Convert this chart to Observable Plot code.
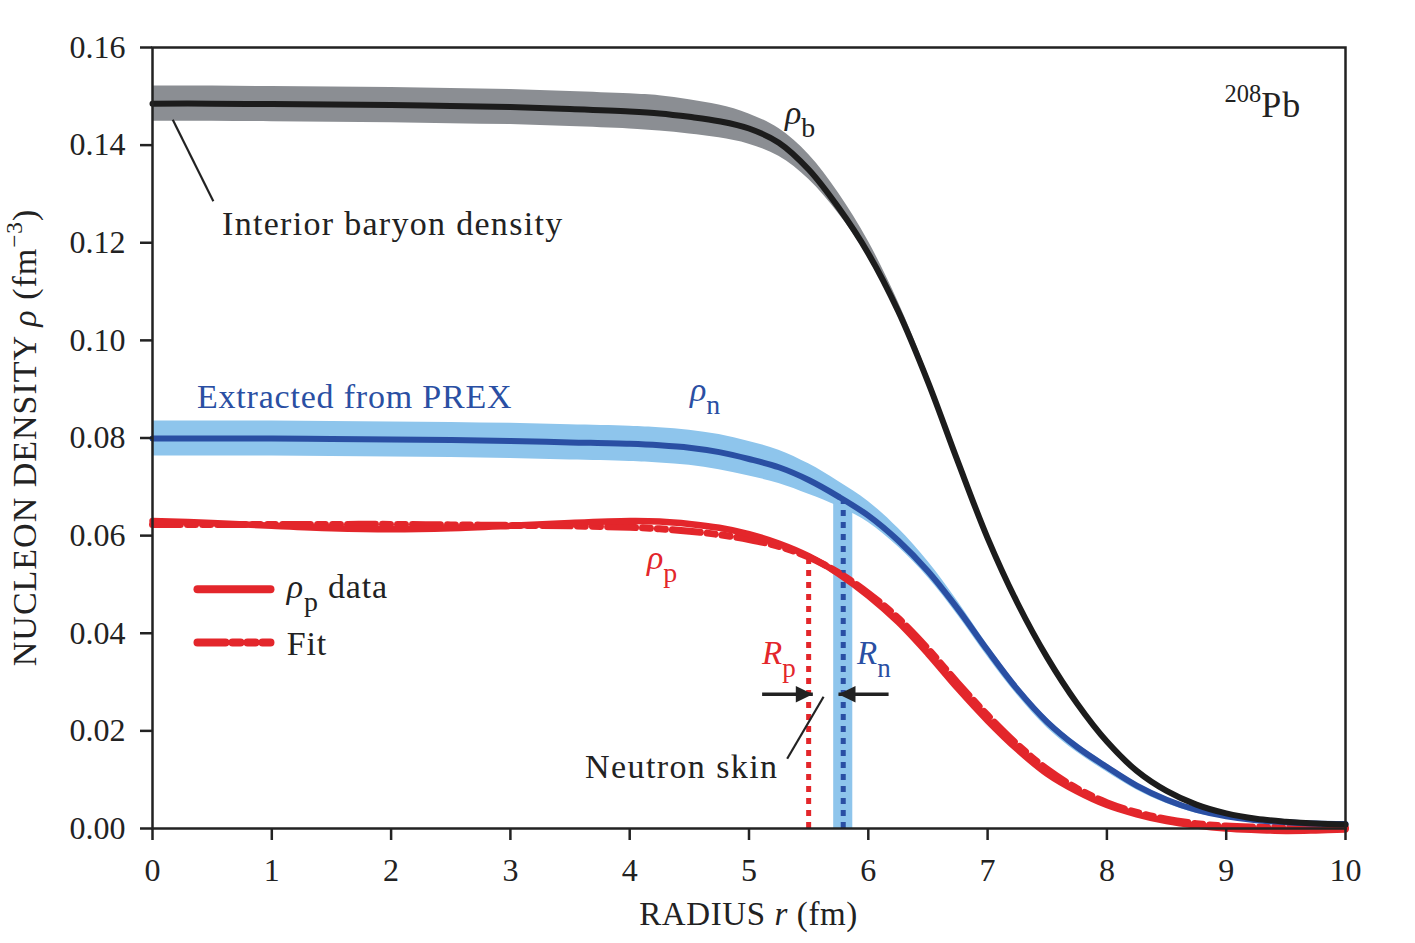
<!DOCTYPE html>
<html><head><meta charset="utf-8">
<script src="https://cdn.jsdelivr.net/npm/d3@7"></script>
<script src="https://cdn.jsdelivr.net/npm/@observablehq/plot@0.6"></script>
<style>body{margin:0;background:#fff} svg{display:block}</style>
</head><body><div id="chart"></div>
<script>
// ---- data ----
const radius = [0,0.5,1,1.5,2,2.5,3,3.5,4,4.25,4.5,4.75,5,5.25,5.5,5.75,6,6.25,6.5,6.75,7,7.25,7.5,7.75,8,8.25,8.5,8.75,9,9.25,9.5,9.75,10];
const rhoB   = [0.1485,0.1485,0.1484,0.1483,0.1482,0.1480,0.1478,0.1474,0.1469,0.1465,0.1458,0.1449,0.1434,0.1405,0.1350,0.1272,0.1178,0.1060,0.0915,0.0752,0.0595,0.0462,0.0350,0.0256,0.0178,0.0118,0.0077,0.0049,0.0031,0.0020,0.0014,0.0010,0.0008];
const rhoBHi = [0.0036,0.0036,0.0036,0.0036,0.0036,0.0036,0.0036,0.0036,0.0036,0.0036,0.0035,0.0033,0.0030,0.0029,0.0031,0.0030,0.0025,0.0019,0.0015,0.0012,0.0010,0.0009,0.0008,0.0007,0.0006,0.0006,0.0005,0.0005,0.0004,0.0004,0.0003,0.0003,0.0003];
const rhoBLo = [0.0036,0.0036,0.0036,0.0036,0.0036,0.0036,0.0036,0.0036,0.0036,0.0036,0.0035,0.0034,0.0032,0.0028,0.0020,0.0012,0.0007,0.0005,0.0004,0.0004,0.0004,0.0004,0.0004,0.0004,0.0004,0.0003,0.0003,0.0003,0.0003,0.0003,0.0003,0.0003,0.0003];
const rhoN   = [0.0799,0.0799,0.0799,0.0798,0.0797,0.0796,0.0794,0.0791,0.0788,0.0785,0.0780,0.0771,0.0757,0.0740,0.0714,0.0680,0.0641,0.0590,0.0527,0.0450,0.0365,0.0285,0.0218,0.0167,0.0126,0.0088,0.0059,0.0038,0.0025,0.0017,0.0013,0.0010,0.0009];
const rhoNHi = [0.0036,0.0036,0.0036,0.0036,0.0036,0.0036,0.0036,0.0036,0.0036,0.0036,0.0036,0.0036,0.0036,0.0035,0.0033,0.0031,0.0029,0.0025,0.0020,0.0015,0.0011,0.0009,0.0008,0.0007,0.0006,0.0005,0.0005,0.0004,0.0004,0.0003,0.0003,0.0003,0.0002];
const rhoNLo = [0.0036,0.0036,0.0036,0.0036,0.0036,0.0036,0.0036,0.0036,0.0036,0.0036,0.0036,0.0036,0.0035,0.0033,0.0029,0.0020,0.0014,0.0013,0.0013,0.0013,0.0013,0.0012,0.0012,0.0011,0.0010,0.0009,0.0008,0.0007,0.0005,0.0004,0.0003,0.0003,0.0002];
const rhoP   = [0.0630,0.0626,0.0620,0.0615,0.0613,0.0615,0.0620,0.0626,0.0630,0.0629,0.0624,0.0616,0.0603,0.0584,0.0558,0.0522,0.0477,0.0423,0.0358,0.0287,0.0221,0.0162,0.0112,0.0076,0.0048,0.0029,0.0015,0.0006,0.0000,-0.0003,-0.0005,-0.0004,-0.0002];
const rhoFit = [0.0623,0.0623,0.0623,0.0623,0.0623,0.0622,0.0621,0.0620,0.0617,0.0614,0.0609,0.0602,0.0592,0.0578,0.0556,0.0524,0.0482,0.0431,0.0368,0.0298,0.0232,0.0172,0.0121,0.0082,0.0053,0.0033,0.0019,0.0010,0.0005,0.0003,0.0002,0.0001,0.0001];

const xTicks = [0,1,2,3,4,5,6,7,8,9,10];
const yTicks = [0,0.02,0.04,0.06,0.08,0.10,0.12,0.14,0.16];

const Rp = 5.50, Rn = 5.79, RnLo = 5.71, RnHi = 5.87;
const rhoAtRp = 0.0560, rhoAtRn = 0.0682;
const arrowRho = 0.0275;
const arrows = [{from:5.11, to:5.535, rot:0}, {from:6.17, to:5.75, rot:180}];
const leaders = [
  {x1:0.17, y1:0.1452, x2:0.51, y2:0.1285},
  {x1:5.625, y1:0.0270, x2:5.32, y2:0.0143}
];
const legendSolid = [{x:0.377, y:0.0490},{x:0.989, y:0.0490}];
const legendFit   = [{x:0.377, y:0.0381},{x:0.989, y:0.0381}];

const RED = "#e3262b", BLUE = "#2a4fa3", LIGHT = "#8ec5ec", GRAY = "#8b8e93", BLACK = "#1c1c1c", INK = "#222";
const FONT = "'Liberation Serif', 'Times New Roman', serif";

const labels = [
  {x:0.587, y:0.1215, color:INK, size:34, ls:1.3, parts:[{t:"Interior baryon density"}]},
  {x:0.377, y:0.0860, color:BLUE, size:34, ls:0.8, parts:[{t:"Extracted from PREX"}]},
  {x:4.51,  y:0.0875, color:BLUE, size:34, parts:[{t:"ρ", it:true},{t:"n", sub:true}]},
  {x:5.306, y:0.1442, color:INK, size:34, parts:[{t:"ρ", it:true},{t:"b", sub:true}]},
  {x:4.149, y:0.0530, color:RED, size:34, parts:[{t:"ρ", it:true},{t:"p", sub:true}]},
  {x:5.113, y:0.0335, color:RED, size:33, parts:[{t:"R", it:true},{t:"p", sub:true}]},
  {x:5.91,  y:0.0335, color:BLUE, size:33, parts:[{t:"R", it:true},{t:"n", sub:true}]},
  {x:3.63,  y:0.0102, color:INK, size:34, ls:1.4, parts:[{t:"Neutron skin"}]},
  {x:8.99,  y:0.1457, color:INK, size:36, parts:[{t:"208", sup:true, scale:0.68},{t:"Pb", ls:1}]},
  {x:1.13,  y:0.0471, color:INK, size:34, ls:0.8, parts:[{t:"ρ", it:true},{t:"p", sub:true},{t:" data"}]},
  {x:1.13,  y:0.0354, color:INK, size:34, ls:0.8, parts:[{t:"Fit"}]}
];

const rows = radius.map((r, i) => ({
  r, b: rhoB[i], bLo: rhoB[i] - rhoBLo[i], bHi: rhoB[i] + rhoBHi[i],
  n: rhoN[i], nLo: rhoN[i] - rhoNLo[i], nHi: rhoN[i] + rhoNHi[i],
  p: rhoP[i], fit: rhoFit[i]
}));

const arrowHead = {
  draw(ctx, size) {
    const s = Math.sqrt(size);
    ctx.moveTo(0, 0); ctx.lineTo(-s, -0.48 * s); ctx.lineTo(-s, 0.48 * s); ctx.closePath();
  }
};

const curve = "catmull-rom";
const fitDash = "28,7,8,7,8,7";

const plot = Plot.plot({
  width: 1415, height: 943,
  marginLeft: 152, marginRight: 70, marginTop: 47, marginBottom: 115,
  style: {fontFamily: FONT, fontSize: "32px", color: INK, background: "#fff"},
  x: {domain: [0, 10]},
  y: {domain: [0, 0.16]},
  marks: [
    Plot.areaY(rows, {x: "r", y1: "bLo", y2: "bHi", fill: GRAY, curve}),
    Plot.areaY(rows, {x: "r", y1: "nLo", y2: "nHi", fill: LIGHT, curve}),
    Plot.rect([{x1: RnLo, x2: RnHi, y1: 0, y2: rhoAtRn}], {x1: "x1", x2: "x2", y1: "y1", y2: "y2", fill: LIGHT}),
    Plot.ruleX([Rp], {y1: 0, y2: rhoAtRp, stroke: RED, strokeWidth: 5, strokeDasharray: "6,6"}),
    Plot.ruleX([Rn], {y1: 0, y2: rhoAtRn, stroke: BLUE, strokeWidth: 5, strokeDasharray: "6,6"}),
    Plot.line(rows, {x: "r", y: "fit", stroke: RED, strokeWidth: 7, strokeDasharray: fitDash, curve}),
    Plot.line(rows, {x: "r", y: "p", stroke: RED, strokeWidth: 6.5, curve}),
    Plot.line(rows, {x: "r", y: "n", stroke: BLUE, strokeWidth: 6, curve}),
    Plot.line(rows, {x: "r", y: "b", stroke: BLACK, strokeWidth: 6, curve}),
    Plot.link(arrows, {x1: "from", x2: "to", y1: arrowRho, y2: arrowRho, stroke: INK, strokeWidth: 3.5}),
    Plot.dot(arrows, {x: "to", y: arrowRho, symbol: arrowHead, r: 9.6, rotate: "rot", fill: INK, stroke: "none"}),
    Plot.link(leaders, {x1: "x1", y1: "y1", x2: "x2", y2: "y2", stroke: INK, strokeWidth: 2.2}),
    Plot.line(legendSolid, {x: "x", y: "y", stroke: RED, strokeWidth: 8}),
    Plot.line(legendFit, {x: "x", y: "y", stroke: RED, strokeWidth: 8, strokeDasharray: fitDash}),
    Plot.axisX(xTicks, {tickSize: 12, tickPadding: 18, strokeWidth: 2.5, fontSize: 32, tickFormat: d => String(d), label: null}),
    Plot.axisY(yTicks, {tickSize: 12, tickPadding: 15, strokeWidth: 2.5, fontSize: 32, tickFormat: d => d.toFixed(2), label: null}),
    Plot.frame({stroke: INK, strokeWidth: 2.5})
  ]
});

document.getElementById("chart").appendChild(plot);

const sx = v => plot.scale("x").apply(v);
const sy = v => plot.scale("y").apply(v);
const svg = d3.select(plot);
const g = svg.append("g");

function addText(s, x, y, transform) {
  const t = g.append("text")
    .attr("fill", s.color).attr("font-family", FONT).attr("font-size", s.size)
    .attr("text-anchor", s.anchor || "start");
  if (s.ls) t.attr("letter-spacing", s.ls);
  if (transform) t.attr("transform", transform); else t.attr("x", x).attr("y", y);
  let shift = 0;
  for (const p of s.parts) {
    const target = p.sub ? s.size * 0.38 : p.sup ? -s.size * 0.40 : 0;
    const ts = t.append("tspan").text(p.t).attr("dy", target - shift);
    shift = target;
    if (p.it) ts.attr("font-style", "italic");
    if (p.ls) ts.attr("letter-spacing", p.ls);
    if (p.sub || p.sup) ts.attr("font-size", s.size * (p.scale || 0.82));
  }
}

for (const s of labels) addText(s, sx(s.x), sy(s.y));

// axis titles
addText({color: INK, size: 33, anchor: "middle", ls: 0.6,
  parts: [{t: "RADIUS "}, {t: "r", it: true}, {t: " (fm)"}]},
  (sx(0) + sx(10)) / 2, 925);
addText({color: INK, size: 34, anchor: "middle", ls: 1,
  parts: [{t: "NUCLEON DENSITY "}, {t: "ρ", it: true}, {t: " (fm"}, {t: "−3", sup: true, scale: 0.68}, {t: ")"}]},
  0, 0, `translate(36,${(sy(0) + sy(0.16)) / 2}) rotate(-90)`);
</script>
</body></html>
